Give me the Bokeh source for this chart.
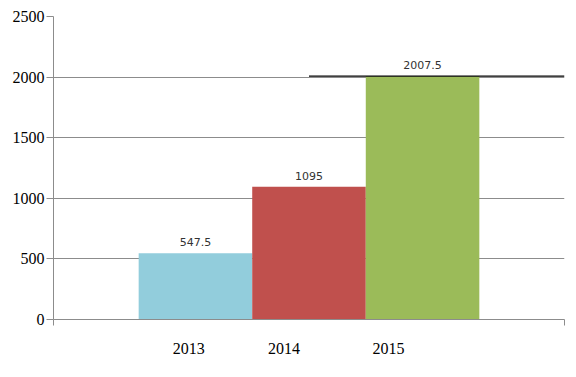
from bokeh.plotting import figure
from bokeh.models import FixedTicker, ColumnDataSource, Range1d
from bokeh.core.properties import value
from bokeh.embed import file_html
from bokeh.resources import INLINE

years = ["2013", "2014", "2015"]
values = [547.5, 1095, 2007.5]
colors = ["#92CDDC", "#C0504D", "#9BBB59"]
value_labels = ["547.5", "1095", "2007.5"]
y_ticks = [0, 500, 1000, 1500, 2000, 2500]
ref_line_value = 2007.5

# layout (style)
x_centers = [1.25, 2.25, 3.25]
year_label_pos = [1.19, 2.03, 2.95]
ref_line_x = [2.25, 4.5]

p = figure(width=576, height=377, output_backend="svg", toolbar_location=None,
           x_range=Range1d(0, 4.5), y_range=Range1d(0, 2500),
           min_border_left=53, min_border_right=12, min_border_top=16, min_border_bottom=58)
p.outline_line_color = None
p.background_fill_color = "white"

src = ColumnDataSource(dict(x=x_centers, top=values, color=colors, lab=value_labels))
p.vbar(x="x", top="top", bottom=0, width=1.0, fill_color="color", line_color=None, source=src)
p.text(x="x", y="top", text="lab", source=src, text_align="center", text_baseline="bottom",
       y_offset=-7, text_font=value("DejaVu Sans"), text_font_size="11px", text_color="#333333")
p.line(x=ref_line_x, y=[ref_line_value, ref_line_value], line_color="black", line_width=1.3)

p.xgrid.visible = False
p.ygrid.grid_line_color = "#8c8c8c"
p.ygrid.grid_line_width = 1
p.ygrid.ticker = FixedTicker(ticks=y_ticks)

ya = p.yaxis[0]
ya.ticker = FixedTicker(ticks=y_ticks)
ya.axis_line_color = "#8c8c8c"
ya.major_tick_line_color = "#8c8c8c"
ya.major_tick_out = 7
ya.major_tick_in = 0
ya.minor_tick_line_color = None
ya.major_label_standoff = 2
ya.major_label_text_font = "Liberation Serif"
ya.major_label_text_font_size = "16px"
ya.major_label_text_color = "black"

xa = p.xaxis[0]
xa.ticker = FixedTicker(ticks=year_label_pos, minor_ticks=[0, 4.5])
xa.major_label_overrides = {pos: y for pos, y in zip(year_label_pos, years)}
xa.axis_line_color = "#8c8c8c"
xa.major_tick_line_color = None
xa.major_tick_out = 0
xa.major_tick_in = 0
xa.minor_tick_line_color = "#8c8c8c"
xa.minor_tick_out = 6
xa.minor_tick_in = 0
xa.major_label_standoff = 17
xa.major_label_text_font = "Liberation Serif"
xa.major_label_text_font_size = "16px"
xa.major_label_text_color = "black"

open("out.html", "w").write(file_html(p, INLINE))
